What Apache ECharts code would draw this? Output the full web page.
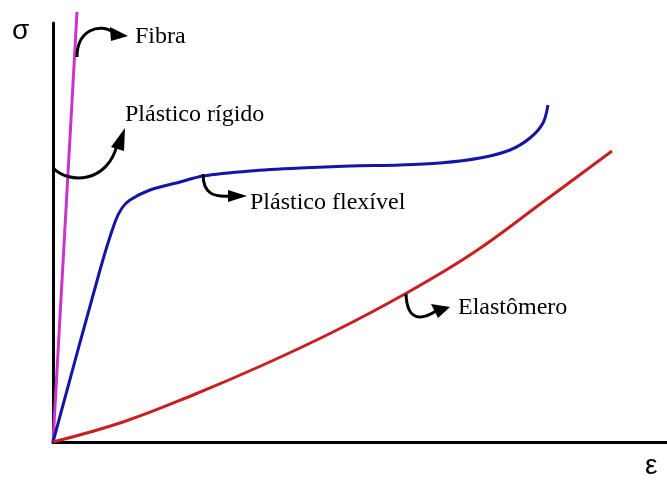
<!DOCTYPE html>
<html>
<head>
<meta charset="utf-8">
<script src="https://cdn.jsdelivr.net/npm/echarts@6/dist/echarts.min.js"></script>
<style>html,body{margin:0;padding:0;background:#fff}#c{width:667px;height:481px}</style>
</head>
<body>
<div id="c"></div>
<script>
// strain (ε) / stress (σ) in arbitrary units
const fibra = [[0, 0], [24, 430]];
const plasticoFlexivel = [[0,0],[47,172],[62,220],[69,234],[77,242],[97,252],[127,260],[150,266],[197,271],[247,274],[297,276],[347,277],[387,279],[427,284],[457,292],[477,304],[490,319],[495,337]];
const elastomero = [[0,0],[70,20],[140,47],[210,77],[280,110],[350,147],[420,189],[490,240],[559,291]];
const seriesNames = ['Fibra', 'Plástico flexível', 'Elastômero'];
const labels = { fibra: 'Fibra', rigido: 'Plástico rígido', flexivel: 'Plástico flexível', elast: 'Elastômero', yName: 'σ', xName: 'ε' };

const chart = echarts.init(document.getElementById('c'));
const serif = '"Liberation Serif", "DejaVu Serif", serif';
const arrowStyle = { stroke: '#000', lineWidth: 3, fill: null };
function head(pts) { return { type: 'polygon', shape: { points: pts }, style: { fill: '#000' }, z: 10 }; }
function curve(s) { return { type: 'bezierCurve', shape: s, style: arrowStyle, z: 10 }; }
function txt(t, x, y, size, font) {
  return { type: 'text', x: x, y: y, z: 10, style: { text: t, fill: '#000', font: size + 'px ' + font, textVerticalAlign: 'middle' } };
}
const axisCommon = {
  type: 'value', min: 0,
  axisLine: { show: true, lineStyle: { color: '#000', width: 3 } },
  axisTick: { show: false }, axisLabel: { show: false }, splitLine: { show: false }
};
chart.setOption({
  animation: false,
  backgroundColor: '#fff',
  grid: { left: 53, right: 0, top: 23, bottom: 39 },
  xAxis: Object.assign({}, axisCommon, { max: 614 }),
  yAxis: Object.assign({}, axisCommon, { max: 419 }),
  series: [
    { name: seriesNames[0], type: 'line', data: fibra, showSymbol: false, clip: false, lineStyle: { color: '#cc33cc', width: 3 } },
    { name: seriesNames[1], type: 'line', data: plasticoFlexivel, showSymbol: false, smooth: 0.3, lineStyle: { color: '#1414a6', width: 3 } },
    { name: seriesNames[2], type: 'line', data: elastomero, showSymbol: false, smooth: 0.4, lineStyle: { color: '#c82020', width: 3 } }
  ],
  graphic: [
    txt(labels.yName, 12, 31, 28, '"Liberation Sans", sans-serif'),
    txt(labels.xName, 645, 466, 28, '"Liberation Sans", sans-serif'),
    txt(labels.fibra, 135, 37, 24, serif),
    txt(labels.rigido, 125, 115, 24, serif),
    txt(labels.flexivel, 250, 203, 24, serif),
    txt(labels.elast, 458, 308, 24, serif),
    // Fibra arrow
    curve({ x1: 77, y1: 57, cpx1: 77, cpy1: 30, cpx2: 100, cpy2: 22, x2: 114, y2: 33 }),
    head([[110, 27], [128, 36], [111, 41]]),
    // Plástico rígido arrow
    curve({ x1: 53, y1: 168, cpx1: 70, cpy1: 185, cpx2: 108, cpy2: 182, x2: 117, y2: 145 }),
    head([[111, 147], [125, 128], [124, 151]]),
    // Plástico flexível arrow
    curve({ x1: 203, y1: 174, cpx1: 203, cpy1: 195, cpx2: 215, cpy2: 197, x2: 230, y2: 196 }),
    head([[228, 190], [247, 196], [228, 202]]),
    // Elastômero arrow
    curve({ x1: 406, y1: 294, cpx1: 407, cpy1: 322, cpx2: 422, cpy2: 320, x2: 436, y2: 311 }),
    head([[431, 304], [450, 307], [438, 318]])
  ]
});
</script>
</body>
</html>
